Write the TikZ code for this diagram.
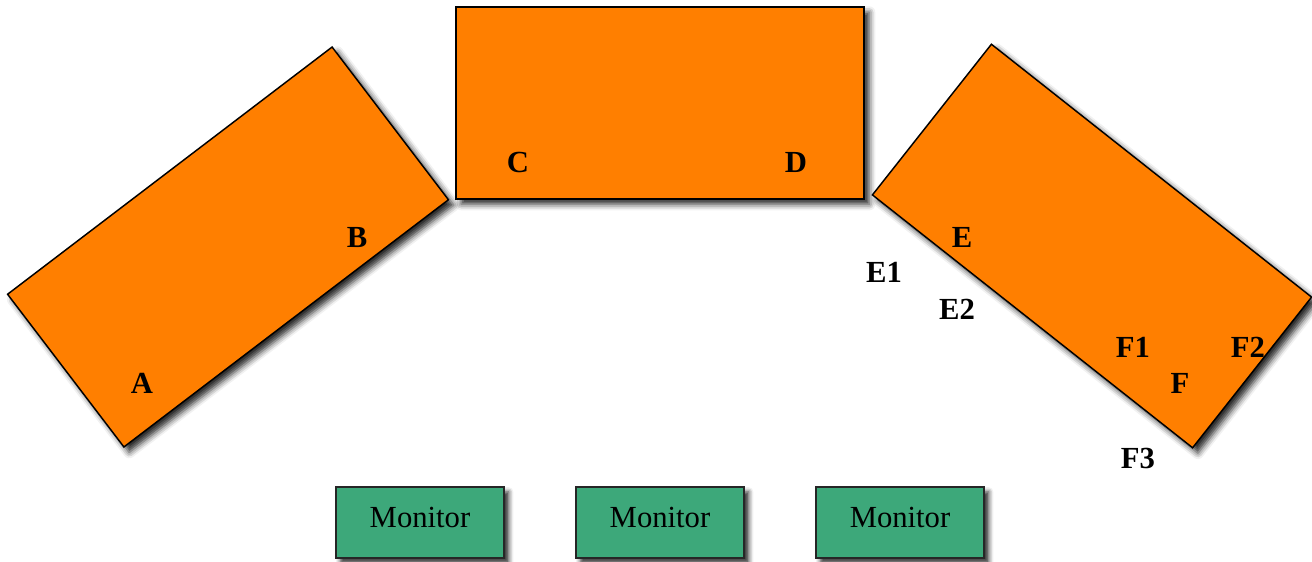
\documentclass[tikz,border=0pt]{standalone}
\usepackage{fontspec}
\setmainfont{Liberation Serif}
\usetikzlibrary{shadows.blur}
\definecolor{deskorange}{RGB}{255,127,0}
\definecolor{mongreen}{RGB}{61,168,122}
\tikzset{
  desk/.style={draw=black, line width=1.1pt, fill=deskorange, minimum width=306pt, minimum height=144pt, inner sep=0pt,
    blur shadow={shadow xshift=4pt, shadow yshift=-4pt, shadow blur radius=4.5pt, shadow opacity=85}},
  monbox/.style={draw=black!85, line width=1.4pt, fill=mongreen, minimum width=126pt, minimum height=53pt, inner sep=0pt,
    font=\fontsize{23}{27}\selectfont, text height=16pt, text depth=9pt,
    blur shadow={shadow xshift=3.5pt, shadow yshift=-3.5pt, shadow blur radius=3.5pt, shadow opacity=85}},
  lbl/.style={font=\fontsize{23}{27}\selectfont\bfseries, inner sep=0pt}
}
\begin{document}
\begin{tikzpicture}[x=0.75pt,y=-0.75pt]
\useasboundingbox (0,0) rectangle (1312,561);
\node[desk, rotate=37.3] (deskL) at (228,247) {};
\node[desk] (deskC) at (660,103) {};
\node[desk, rotate=-38.3] (deskR) at (1092,246) {};
\node[monbox] (mon1) at (420,522.5) {Monitor};
\node[monbox] (mon2) at (660,522.5) {Monitor};
\node[monbox] (mon3) at (900,522.5) {Monitor};
\node[lbl] (lA) at (142,383) {A};
\node[lbl] (lB) at (357,237) {B};
\node[lbl] (lC) at (518,162) {C};
\node[lbl] (lD) at (796,162) {D};
\node[lbl] (lE) at (962,237) {E};
\node[lbl] (lE1) at (884,272) {E1};
\node[lbl] (lE2) at (957,309) {E2};
\node[lbl] (lF1) at (1133,347) {F1};
\node[lbl] (lF2) at (1248,347) {F2};
\node[lbl] (lF) at (1180,383) {F};
\node[lbl] (lF3) at (1138,458) {F3};
\end{tikzpicture}
\end{document}
